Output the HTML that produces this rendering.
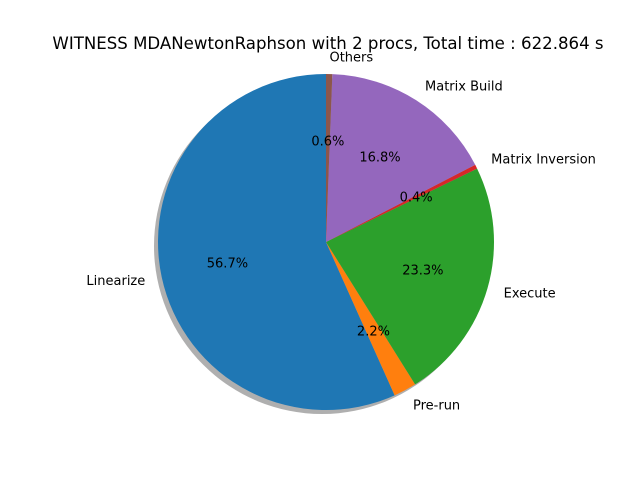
<!DOCTYPE html>
<html>
<head>
<meta charset="utf-8">
<style>
html,body{margin:0;padding:0;background:#fff;}
svg{display:block;font-family:"DejaVu Sans","Liberation Sans",sans-serif;}
</style>
</head>
<body>
<svg id="chart" width="640" height="480" viewBox="0 0 640 480">
<rect width="640" height="480" fill="#fff"/>
<text x="328" y="49" text-anchor="middle" font-size="16.6" fill="#000">WITNESS MDANewtonRaphson with 2 procs, Total time : 622.864 s</text>
</svg>
<script>
const categories = ["Linearize","Pre-run","Execute","Matrix Inversion","Matrix Build","Others"];
const values = [56.7, 2.2, 23.3, 0.4, 16.8, 0.6];
const pctLabels = ["56.7%","2.2%","23.3%","0.4%","16.8%","0.6%"];
const colors = ["#1f77b4","#ff7f0e","#2ca02c","#d62728","#9467bd","#8c564b"];

const svg = document.getElementById('chart');
const NS = "http://www.w3.org/2000/svg";
const cx = 326, cy = 242, r = 168;
const total = values.reduce((a,b)=>a+b,0);
function pt(deg, rad){ const a = deg*Math.PI/180; return [cx + rad*Math.cos(a), cy - rad*Math.sin(a)]; }

const shadow = document.createElementNS(NS,'circle');


shadow.setAttribute('cx', cx-4); shadow.setAttribute('cy', cy+4); shadow.setAttribute('r', r);
shadow.setAttribute('fill','#606060'); shadow.setAttribute('fill-opacity','0.5');
svg.appendChild(shadow);

let start = 90;
values.forEach((v,i)=>{
  const sweep = v/total*360;
  const end = start + sweep;
  const [x1,y1] = pt(start,r), [x2,y2] = pt(end,r);
  const large = sweep>180?1:0;
  const p = document.createElementNS(NS,'path');
  
  
  p.setAttribute('d',`M${cx},${cy} L${x1},${y1} A${r},${r} 0 ${large} 0 ${x2},${y2} Z`);
  p.setAttribute('fill',colors[i]);
  svg.appendChild(p);
  start = end;
});

start = 90;
values.forEach((v,i)=>{
  const sweep = v/total*360;
  const mid = start + sweep/2;
  const a = mid*Math.PI/180;
  const [lx,ly] = pt(mid, r*1.1);
  const t = document.createElementNS(NS,'text');
  
  
  t.setAttribute('x',lx); t.setAttribute('y',ly+4.5);
  t.setAttribute('font-size','13');
  t.setAttribute('text-anchor', Math.cos(a)>=0?'start':'end');
  t.textContent = categories[i];
  svg.appendChild(t);
  const [px,py] = pt(mid, r*0.6);
  const q = document.createElementNS(NS,'text');
  
  
  q.setAttribute('x',px); q.setAttribute('y',py+4.5);
  q.setAttribute('font-size','13');
  q.setAttribute('text-anchor','middle');
  q.textContent = pctLabels[i];
  svg.appendChild(q);
  start += sweep;
});
</script>
</body>
</html>
